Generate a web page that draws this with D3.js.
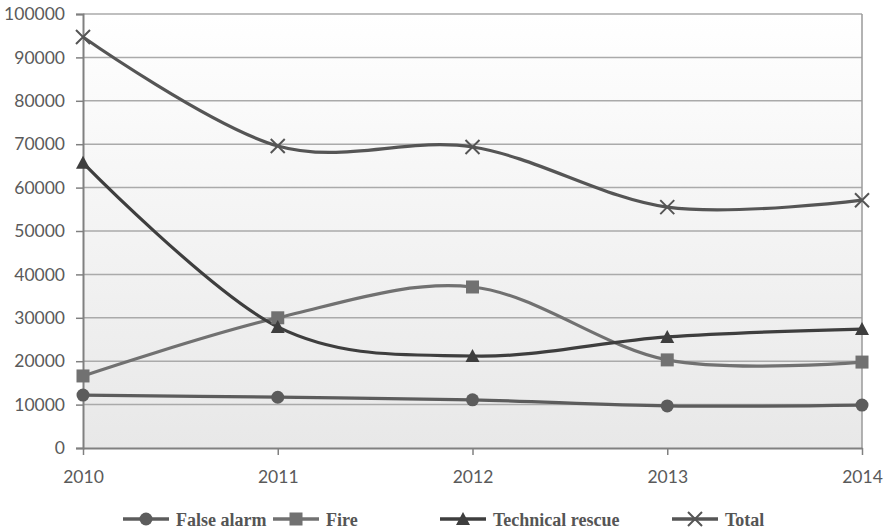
<!DOCTYPE html>
<html>
<head>
<meta charset="utf-8">
<script src="https://cdn.jsdelivr.net/npm/d3@7"></script>
<style>
  html, body { margin: 0; padding: 0; background: #fff; }
  svg { display: block; }
</style>
</head>
<body>
<svg id="chart" width="886" height="532"></svg>
<script>
// Incidents per year by type
const years = [2010, 2011, 2012, 2013, 2014];
const falseAlarm = [12200, 11700, 11100, 9700, 9900];
const fire = [16600, 30000, 37100, 20300, 19800];
const technicalRescue = [65700, 27900, 21200, 25600, 27400];
const total = [94700, 69600, 69350, 55500, 57100];
const yTicks = [0, 10000, 20000, 30000, 40000, 50000, 60000, 70000, 80000, 90000, 100000];

const series = [
  { name: "False alarm", values: falseAlarm, color: "#5c5c5c", marker: "circle" },
  { name: "Fire", values: fire, color: "#717171", marker: "square" },
  { name: "Technical rescue", values: technicalRescue, color: "#3e3e3e", marker: "triangle" },
  { name: "Total", values: total, color: "#555555", marker: "cross" }
];

const svg = d3.select("#chart");
const plotLeft = 83, plotRight = 862, plotTop = 14, plotBottom = 448;

const x = d3.scalePoint().domain(years).range([plotLeft, plotRight]);
const y = d3.scaleLinear().domain([0, 100000]).range([plotBottom, plotTop]);

// plot background gradient
const defs = svg.append("defs");
const grad = defs.append("linearGradient").attr("id", "bg").attr("x1", 0).attr("y1", 0).attr("x2", 0).attr("y2", 1);
grad.append("stop").attr("offset", "0%").attr("stop-color", "#ffffff");
grad.append("stop").attr("offset", "100%").attr("stop-color", "#e8e8e8");
svg.append("rect").attr("x", plotLeft).attr("y", plotTop)
  .attr("width", plotRight - plotLeft).attr("height", plotBottom - plotTop).attr("fill", "url(#bg)");

// horizontal gridlines
svg.append("g").selectAll("line").data(yTicks.filter(d => d > 0)).join("line")
  .attr("x1", plotLeft).attr("x2", plotRight)
  .attr("y1", d => y(d)).attr("y2", d => y(d))
  .attr("stroke", "#aaaaaa").attr("stroke-width", 1.5);

// right border
svg.append("line").attr("x1", plotRight).attr("x2", plotRight).attr("y1", plotTop).attr("y2", plotBottom)
  .attr("stroke", "#9a9a9a").attr("stroke-width", 1.5);

const tickFont = "Lato, 'Open Sans', sans-serif";

// y axis
const yAxis = svg.append("g").attr("transform", `translate(${plotLeft},0)`)
  .call(d3.axisLeft(y).tickValues(yTicks).tickFormat(d3.format("d")).tickSize(7).tickPadding(11));
yAxis.select(".domain").attr("stroke", "#808080").attr("stroke-width", 2);
yAxis.selectAll(".tick line").attr("stroke", "#808080").attr("stroke-width", 1.5);
yAxis.selectAll(".tick text").attr("fill", "#5a5a5a").style("font-family", tickFont).style("font-size", "17.5px");

// x axis
const xAxis = svg.append("g").attr("transform", `translate(0,${plotBottom})`)
  .call(d3.axisBottom(x).tickSize(7).tickPadding(16).tickSizeOuter(0));
xAxis.select(".domain").attr("stroke", "#808080").attr("stroke-width", 2);
xAxis.selectAll(".tick line").attr("stroke", "#808080").attr("stroke-width", 1.5);
xAxis.selectAll(".tick text").attr("fill", "#5a5a5a").style("font-family", tickFont).style("font-size", "17.5px");

// marker drawing
function drawMarker(g, type, color, cx, cy) {
  if (type === "circle") {
    g.append("circle").attr("cx", cx).attr("cy", cy).attr("r", 6.5).attr("fill", color);
  } else if (type === "square") {
    g.append("rect").attr("x", cx - 6.5).attr("y", cy - 6.5).attr("width", 13).attr("height", 13).attr("fill", color);
  } else if (type === "triangle") {
    g.append("path").attr("d", `M${cx},${cy - 7}L${cx + 7},${cy + 6}L${cx - 7},${cy + 6}Z`).attr("fill", color);
  } else {
    g.append("path").attr("d", `M${cx - 7},${cy - 7}L${cx + 7},${cy + 7}M${cx + 7},${cy - 7}L${cx - 7},${cy + 7}`)
      .attr("stroke", color).attr("stroke-width", 2).attr("fill", "none");
  }
}

// smoothed series lines
const line = d3.line().x((d, i) => x(years[i])).y(d => y(d)).curve(d3.curveCardinal.tension(0));
const plot = svg.append("g");
series.forEach(s => {
  plot.append("path").attr("d", line(s.values)).attr("fill", "none")
    .attr("stroke", s.color).attr("stroke-width", 3.2);
});
series.forEach(s => {
  const g = plot.append("g");
  s.values.forEach((v, i) => drawMarker(g, s.marker, s.color, x(years[i]), y(v)));
});

// legend
const legendPos = [123, 273, 440, 672];
const legend = svg.append("g");
series.forEach((s, i) => {
  const lx = legendPos[i], ly = 519;
  legend.append("line").attr("x1", lx).attr("x2", lx + 46).attr("y1", ly).attr("y2", ly)
    .attr("stroke", s.color).attr("stroke-width", 3.6);
  drawMarker(legend, s.marker, s.color, lx + 23, ly);
  legend.append("text").attr("x", lx + 53).attr("y", ly + 7)
    .attr("fill", "#555").style("font-family", "'Liberation Serif', serif")
    .style("font-weight", "bold").style("font-size", "18px").text(s.name);
});
</script>
</body>
</html>
